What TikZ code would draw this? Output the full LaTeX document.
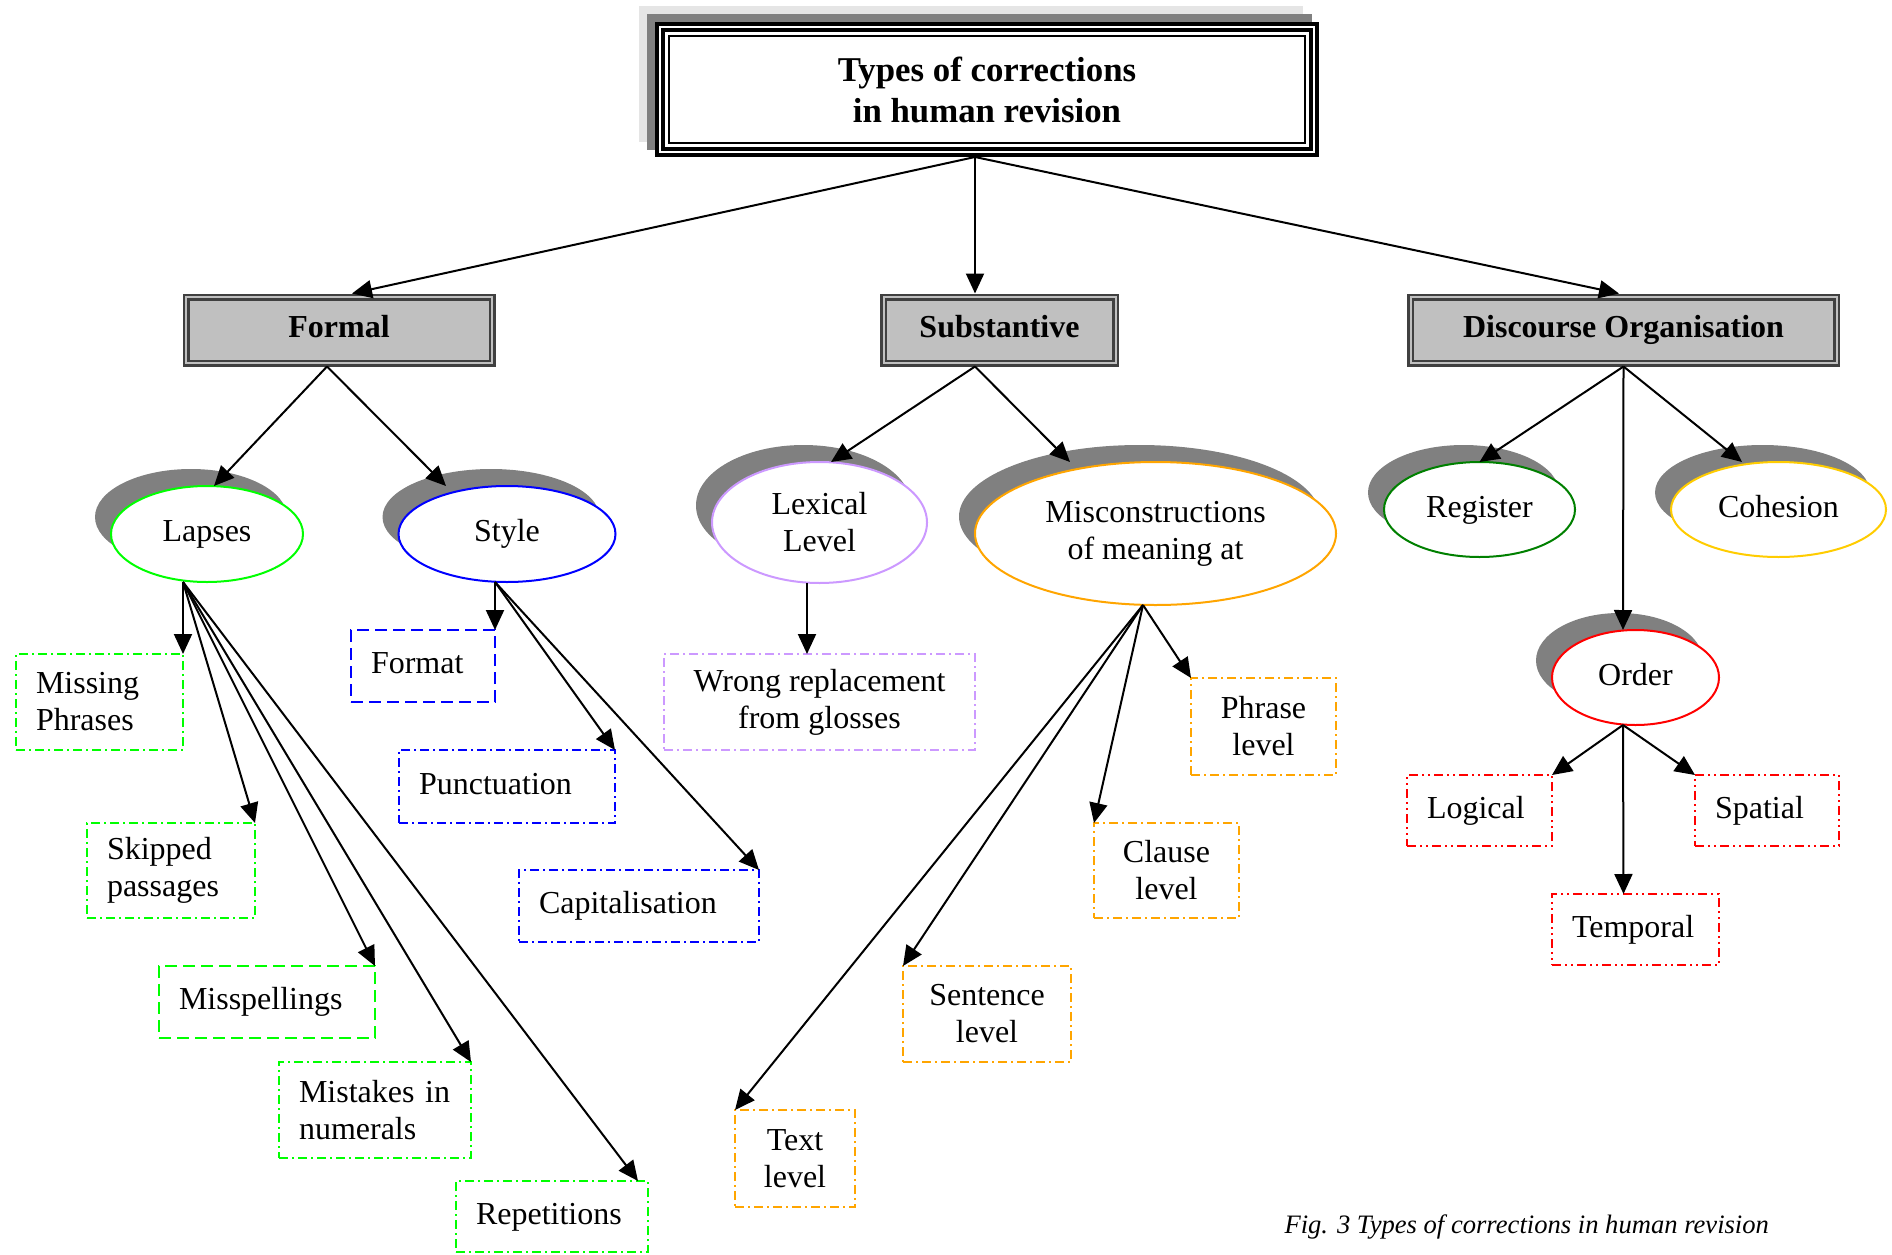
\documentclass[tikz,border=0pt]{standalone}
\usepackage{fontspec}
\setmainfont{Liberation Serif}
\usetikzlibrary{arrows.meta,shapes.geometric,shadows}

\definecolor{lapsegreen}{HTML}{00FF00}
\definecolor{styleblue}{HTML}{0000FF}
\definecolor{lexpurple}{HTML}{CC99FF}
\definecolor{misorange}{HTML}{FFA500}
\definecolor{reggreen}{HTML}{008000}
\definecolor{cohgold}{HTML}{FFCC00}
\definecolor{ordred}{HTML}{FF0000}
\definecolor{boxgray}{HTML}{C0C0C0}
\definecolor{rimgray}{HTML}{404040}
\definecolor{shadegray}{HTML}{808080}
\definecolor{palegray}{HTML}{E5E5E5}

\begin{document}
\begin{tikzpicture}[x=1pt,y=-1pt,
	font=\fontsize{32}{37}\selectfont,
	oneline/.style={text height=22pt,text depth=7pt},
	cat/.style={rectangle,draw=rimgray,fill=boxgray,double=boxgray,double distance=2pt,line width=2.5pt,inner sep=0pt,outer sep=3.5pt,minimum height=66pt,oneline,font=\fontsize{32}{37}\selectfont\bfseries},
	kind/.style={ellipse,draw=#1,fill=white,line width=2pt,inner sep=0pt,outer sep=0pt,align=center,general shadow={fill=shadegray,shadow xshift=-16pt,shadow yshift=17pt}},
	leaf/.style={rectangle,draw=#1,line width=2.5pt,inner sep=0pt,outer sep=0pt,align=center},
	lefty/.style={align=left,inner xsep=20pt,text width=#1},
	dotdash/.style={dash pattern=on 9pt off 4pt on 2pt off 4pt},
	dotdotdash/.style={dash pattern=on 9pt off 4pt on 2pt off 4pt on 2pt off 4pt},
	longdash/.style={dash pattern=on 12pt off 6pt},
	link/.style={line width=2pt,-{Triangle[length=20pt,width=18pt]}}]

	\useasboundingbox (0,0) rectangle (1892,1255);

	% title with its two shadows
	\fill[palegray] (639,6) rectangle (1303,142);
	\fill[shadegray] (647,14) rectangle (1312,150);
	\node[rectangle,draw,fill=white,double,double distance=2pt,line width=4pt,outer sep=5pt,inner sep=0pt,
		minimum width=654pt,minimum height=125pt,align=center,font=\fontsize{34.8}{41}\selectfont\bfseries]
		(title) at (987,89.5) {Types of corrections\\in human revision};
	\draw[line width=2.5pt] ([shift={(14,14)}]title.north west) rectangle ([shift={(-14,-14)}]title.south east);

	\node[cat,minimum width=306pt] (formal) at (339,330) {Formal};
	\node[cat,minimum width=232pt] (subst) at (999.5,330) {Substantive};
	\node[cat,minimum width=426pt] (disc) at (1623.5,330) {Discourse Organisation};

	\node[kind=lapsegreen,oneline,minimum width=192pt,minimum height=96pt] (lapses) at (207,534) {Lapses};
	\node[kind=styleblue,oneline,minimum width=217pt,minimum height=96pt] (style) at (507,534) {Style};
	\node[kind=lexpurple,minimum width=215pt,minimum height=121pt] (lexical) at (819.5,522.5) {Lexical\\Level};
	\node[kind=misorange,minimum width=361pt,minimum height=143pt] (miscon) at (1155.5,533.5) {Misconstructions\\of meaning at};
	\node[kind=reggreen,oneline,minimum width=191pt,minimum height=95pt] (register) at (1479.5,509.5) {Register};
	\node[kind=cohgold,oneline,minimum width=215pt,minimum height=95pt] (cohesion) at (1778.5,509.5) {Cohesion};
	\node[kind=ordred,oneline,minimum width=167pt,minimum height=95pt] (order) at (1635.5,677.5) {Order};

	% lapses
	\node[leaf=lapsegreen,dotdash,lefty=127pt,minimum height=96pt] (missing) at (99.5,702) {Missing\\Phrases};
	\node[leaf=lapsegreen,dotdash,lefty=128pt,minimum height=95pt] (skipped) at (171,870.5) {Skipped\\passages};
	\node[leaf=lapsegreen,longdash,oneline,lefty=176pt,minimum height=72pt] (misspell) at (267,1002) {Misspellings};
	\node[leaf=lapsegreen,dotdash,lefty=152pt,minimum height=96pt] (numerals) at (375,1110) {Mistakes in\\numerals};
	\node[leaf=lapsegreen,dotdash,oneline,lefty=152pt,minimum height=71pt] (repeats) at (552,1216.5) {Repetitions};

	% style
	\node[leaf=styleblue,longdash,oneline,lefty=104pt,minimum height=72pt] (format) at (423,666) {Format};
	\node[leaf=styleblue,dotdash,oneline,lefty=176pt,minimum height=73pt] (punct) at (507,786.5) {Punctuation};
	\node[leaf=styleblue,dotdash,oneline,lefty=200pt,minimum height=72pt] (capital) at (639,906) {Capitalisation};

	% substantive
	\node[leaf=lexpurple,dotdash,minimum width=311pt,minimum height=96pt] (glosses) at (819.5,702) {Wrong replacement\\from glosses};
	\node[leaf=misorange,dotdash,minimum width=145pt,minimum height=97pt] (phrase) at (1263.5,726.5) {Phrase\\level};
	\node[leaf=misorange,dotdash,minimum width=145pt,minimum height=95pt] (clause) at (1166.5,870.5) {Clause\\level};
	\node[leaf=misorange,dotdash,minimum width=168pt,minimum height=96pt] (sentence) at (987,1014) {Sentence\\level};
	\node[leaf=misorange,dotdash,minimum width=120pt,minimum height=97pt] (textlvl) at (795,1158.5) {Text\\level};

	% order
	\node[leaf=ordred,dotdotdash,oneline,lefty=105pt,minimum height=71pt] (logical) at (1479.5,810.5) {Logical};
	\node[leaf=ordred,dotdotdash,oneline,lefty=104pt,minimum height=71pt] (spatial) at (1767,810.5) {Spatial};
	\node[leaf=ordred,dotdotdash,oneline,lefty=127pt,minimum height=71pt] (temporal) at (1635.5,929.5) {Temporal};

	\node[anchor=base west,font=\fontsize{26.6}{30}\selectfont\itshape] (caption) at (1281,1233) {Fig. 3 Types of corrections in human revision};

	\draw[link] ([xshift=-12pt]title.south) -- ([xshift=13pt]formal.north);
	\draw[link] ([xshift=-12pt]title.south) -- ([xshift=-24.5pt]subst.north);
	\draw[link] ([xshift=-12pt]title.south) -- ([xshift=-4.5pt]disc.north);

	\draw[link] ([xshift=-12pt]formal.south) -- ([xshift=7pt]lapses.north);
	\draw[link] ([xshift=-12pt]formal.south) -- ([xshift=-61pt]style.north);
	\draw[link] ([xshift=-24.5pt]subst.south) -- ([xshift=11.5pt]lexical.north);
	\draw[link] ([xshift=-24.5pt]subst.south) -- ([xshift=-85.5pt]miscon.north);
	\draw[link] (disc.south) -- (register.north);
	\draw[link] (disc.south) -- ([xshift=-36.5pt]cohesion.north);
	\draw[link] (disc.south) -- ([xshift=-12.5pt]order.north);

	\draw[link] ([xshift=-24pt]lapses.south) -- (missing.north east);
	\draw[link] ([xshift=-24pt]lapses.south) -- (skipped.north east);
	\draw[link] ([xshift=-24pt]lapses.south) -- (misspell.north east);
	\draw[link] ([xshift=-24pt]lapses.south) -- (numerals.north east);
	\draw[link] ([xshift=-24pt]lapses.south) -- ([xshift=-10pt]repeats.north east);

	\draw[link] ([xshift=-12pt]style.south) -- (format.north east);
	\draw[link] ([xshift=-12pt]style.south) -- (punct.north east);
	\draw[link] ([xshift=-12pt]style.south) -- (capital.north east);

	\draw[link] ([xshift=-12.5pt]lexical.south) -- ([xshift=-12.5pt]glosses.north);

	\draw[link] ([xshift=-12.5pt]miscon.south) -- (phrase.north west);
	\draw[link] ([xshift=-12.5pt]miscon.south) -- (clause.north west);
	\draw[link] ([xshift=-12.5pt]miscon.south) -- (sentence.north west);
	\draw[link] ([xshift=-12.5pt]miscon.south) -- (textlvl.north west);

	\draw[link] ([xshift=-12.5pt]order.south) -- (logical.north east);
	\draw[link] ([xshift=-12.5pt]order.south) -- ([xshift=-12pt]temporal.north);
	\draw[link] ([xshift=-12.5pt]order.south) -- (spatial.north west);
\end{tikzpicture}
\end{document}
